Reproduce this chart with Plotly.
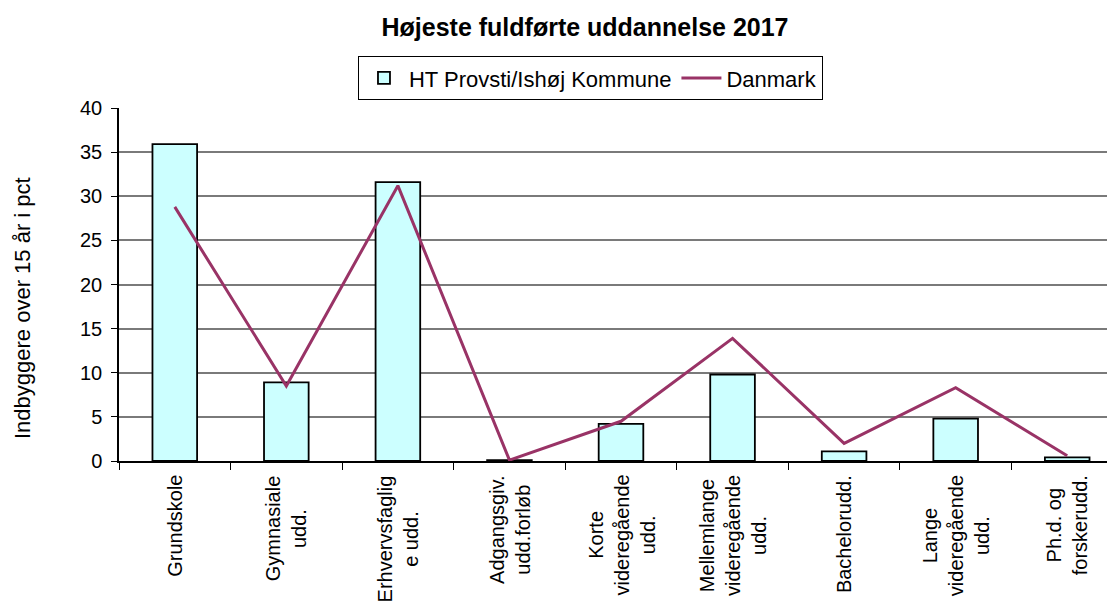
import plotly.graph_objects as go

# Kategorier (x-akse) og værdier
categories = [
    "Grundskole",
    "Gymnasiale<br>udd.",
    "Erhvervsfaglig<br>e udd.",
    "Adgangsgiv.<br>udd.forløb",
    "Korte<br>videregående<br>udd.",
    "Mellemlange<br>videregående<br>udd.",
    "Bachelorudd.",
    "Lange<br>videregående<br>udd.",
    "Ph.d. og<br>forskerudd.",
]
ishoej = [35.9, 8.9, 31.6, 0.1, 4.2, 9.8, 1.1, 4.8, 0.4]
danmark = [28.8, 8.5, 31.2, 0.1, 4.5, 13.9, 2.0, 8.3, 0.6]
y_ticks = [0, 5, 10, 15, 20, 25, 30, 35, 40]

FONT = "Liberation Sans, Arial, sans-serif"

fig = go.Figure()

fig.add_trace(go.Bar(
    x=categories,
    y=ishoej,
    name="HT Provsti/Ishøj Kommune",
    width=0.4,
    marker=dict(color="#CCFFFF", line=dict(color="black", width=1.8)),
))

fig.add_trace(go.Scatter(
    x=categories,
    y=danmark,
    name="Danmark",
    mode="lines",
    line=dict(color="#993366", width=3),
))

# x-akse etiketter som roterede annotationer (centreret tekst)
for cat in categories:
    fig.add_annotation(
        x=cat, y=0, xref="x", yref="paper",
        text=cat, textangle=-90,
        showarrow=False, align="center",
        yanchor="top", xanchor="center", yshift=-12,
        font=dict(family=FONT, size=20, color="black"),
    )

# y-aksens titel
fig.add_annotation(
    x=-0.0966, y=0.4334, xref="paper", yref="paper",
    text="Indbyggere over 15 år i pct", textangle=-90,
    showarrow=False, xanchor="center", yanchor="middle",
    font=dict(family=FONT, size=22, color="black"),
)

fig.update_layout(
    width=1115,
    height=607,
    margin=dict(l=111, r=0, t=100, b=154),
    paper_bgcolor="white",
    plot_bgcolor="white",
    font=dict(family=FONT, size=20, color="black"),
    title=dict(
        text="<b>Højeste fuldførte uddannelse 2017</b>",
        x=0.5175, xanchor="center",
        y=0.9687, yanchor="middle",
        font=dict(family=FONT, size=25, color="black"),
    ),
    legend=dict(
        orientation="h",
        x=0.4696, xanchor="center",
        y=1.147, yanchor="top",
        bordercolor="black", borderwidth=1,
        font=dict(family=FONT, size=22),
        traceorder="normal",
        itemwidth=40,
    ),
    xaxis=dict(
        type="category",
        range=[-0.5, 8.5],
        showticklabels=False,
        tickson="boundaries",
        ticks="outside",
        ticklen=7,
        tickcolor="black",
        showline=True,
        linecolor="black",
        linewidth=1.5,
        showgrid=False,
    ),
    yaxis=dict(
        range=[0, 40],
        tickvals=y_ticks,
        ticks="outside",
        ticklen=6,
        tickcolor="black",
        ticklabelstandoff=5,
        showline=True,
        linecolor="black",
        linewidth=1.5,
        showgrid=True,
        gridcolor="#7a7a7a",
        gridwidth=1.5,
        zeroline=False,
        tickfont=dict(family=FONT, size=20),
    ),
    bargap=0.6,
)

fig.write_html("out.html")
